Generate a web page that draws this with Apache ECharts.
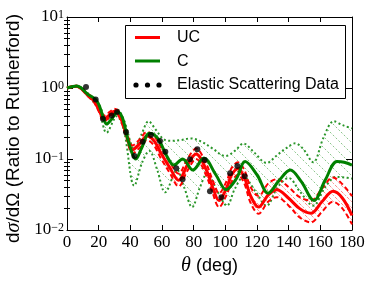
<!DOCTYPE html>
<html>
<head>
<meta charset="utf-8">
<script src="https://cdn.jsdelivr.net/npm/echarts@6/dist/echarts.min.js"></script>
<style>
html,body{margin:0;padding:0;background:#fff;}
#chart{width:374px;height:282px;}
</style>
</head>
<body>
<div id="chart"></div>
<script>
// ---- data ----
var xTicks = [0, 20, 40, 60, 80, 100, 120, 140, 160, 180];
var yMajor = [0.01, 0.1, 1, 10];
var yMinor = [0.02,0.03,0.04,0.05,0.06,0.07,0.08,0.09,
              0.2,0.3,0.4,0.5,0.6,0.7,0.8,0.9,
              2,3,4,5,6,7,8,9];

// UC (red) curve and its dashed band
var ucAngle = [0,3,6,9,13,17,20,23.5,27,30,33,37,41.5,46,50.5,55,59,65,70.5,76,81.5,88,92,96,101,104,108,112,116,121,127,132.5,140,147,154,161,168,174,180];
var ucValue = [1.0,1.04,1.06,0.98,0.8,0.66,0.5,0.37,0.42,0.47,0.42,0.24,0.135,0.165,0.21,0.18,0.125,0.075,0.05,0.082,0.118,0.07,0.04,0.026,0.04,0.06,0.073,0.055,0.03,0.021,0.031,0.037,0.028,0.02,0.0172,0.025,0.035,0.028,0.016];
var ucUpper = [1.0,1.05,1.08,1.0,0.84,0.7,0.54,0.41,0.46,0.51,0.46,0.27,0.155,0.19,0.24,0.21,0.15,0.09,0.062,0.1,0.14,0.085,0.05,0.033,0.05,0.075,0.09,0.07,0.04,0.03,0.045,0.052,0.04,0.029,0.026,0.038,0.055,0.044,0.03];
var ucLower = [1.0,1.03,1.04,0.96,0.77,0.63,0.47,0.34,0.39,0.44,0.39,0.22,0.12,0.145,0.185,0.155,0.105,0.063,0.041,0.068,0.1,0.058,0.033,0.021,0.032,0.048,0.06,0.045,0.024,0.017,0.025,0.029,0.022,0.015,0.0128,0.018,0.025,0.02,0.012];

// C (green) curve
var cAngle = [0,3,6,9,13,17,19,21,23,25,28,32,35,39,43.5,47,52,55,58.7,63,67.5,73,79.5,86.5,94,100.5,107,112.5,120,127,134,141,148,156,163,170.5,175,180];
var cValue = [1.0,1.04,1.07,1.0,0.82,0.72,0.65,0.52,0.38,0.31,0.36,0.46,0.38,0.17,0.1,0.14,0.23,0.22,0.175,0.11,0.082,0.1,0.07,0.103,0.06,0.037,0.053,0.092,0.06,0.033,0.05,0.07,0.048,0.026,0.05,0.092,0.09,0.082];

// C (green) dotted band
var cUpAngle = [0,6,13,20,25,31.5,36,42.5,47,51.5,56,61,66,72,78,85,92,100,106,111.5,118,126,133,139,144,149,155.5,162,168.5,174,180];
var cUpper   = [1.0,1.08,0.85,0.6,0.36,0.5,0.35,0.14,0.22,0.34,0.26,0.19,0.18,0.185,0.195,0.175,0.14,0.11,0.13,0.165,0.125,0.088,0.115,0.145,0.166,0.14,0.09,0.2,0.34,0.3,0.27];
var cLoAngle = [0,6,13,20,25,31.5,36,42.5,47.5,52,57,62,69.5,74,79,84,88.5,95,101,106,111.5,119,126,133,140,147,155.5,163,170,175,180];
var cLower   = [1.0,1.05,0.78,0.5,0.235,0.4,0.25,0.042,0.09,0.13,0.07,0.034,0.07,0.04,0.021,0.04,0.062,0.035,0.022,0.038,0.056,0.035,0.022,0.04,0.054,0.035,0.022,0.04,0.056,0.055,0.053];

// Elastic scattering data
var dataAngle = [12.0,18.1,22.7,28.2,31.6,37.3,42.6,47.8,53.0,58.7,62.1,69.0,73.0,77.7,82.3,86.9,90.3,97.5,103.0,107.6,112.2];
var dataValue = [1.03,0.69,0.37,0.41,0.46,0.238,0.11,0.175,0.218,0.179,0.127,0.074,0.052,0.099,0.137,0.097,0.035,0.029,0.063,0.080,0.057];

// ---- helpers ----
function pairs(xs, ys){ var o=[]; for(var i=0;i<xs.length;i++) o.push([xs[i], ys[i]]); return o; }
function hatch(color, size, dash){
  var c=document.createElement('canvas'); c.width=size; c.height=size;
  var g=c.getContext('2d'); g.strokeStyle=color; g.lineWidth=1;
  if(dash) g.setLineDash(dash);
  g.beginPath(); g.moveTo(0,0); g.lineTo(size,size); g.stroke();
  return c;
}
function bandSeries(upX, upY, loX, loY, pattern){
  return {
    type:'custom', coordinateSystem:'cartesian2d', xAxisIndex:0, yAxisIndex:0,
    data:[[90,1]], silent:true, z:1, clip:true,
    renderItem:function(params, api){
      var pts=[], i;
      for(i=0;i<upX.length;i++) pts.push(api.coord([upX[i], upY[i]]));
      for(i=loX.length-1;i>=0;i--) pts.push(api.coord([loX[i], loY[i]]));
      return {type:'polygon', shape:{points:pts, smooth:0.2}, style:{fill:{image:pattern, repeat:'repeat'}, stroke:null}};
    }
  };
}
var serif = 'Liberation Serif';
var sans = 'Liberation Sans';
function expLabel(v){
  var e = Math.round(Math.log(v)/Math.LN10);
  return '{b|10}{s|' + (e<0 ? '\u2212' + (-e) : e) + '}';
}
var axisLineStyle = {show:true, onZero:false, lineStyle:{color:'#000', width:1}};

var chart = echarts.init(document.getElementById('chart'), null, {renderer:'canvas'});
chart.setOption({
  animation:false,
  backgroundColor:'#fff',
  grid:{left:67, right:22, top:17, bottom:52, outerBoundsMode:'none'},
  xAxis:[
    {type:'value', min:0, max:180, interval:20, position:'bottom',
     axisLine:axisLineStyle, splitLine:{show:false},
     axisTick:{inside:true, length:5, lineStyle:{color:'#000'}},
     axisLabel:{color:'#000', fontFamily:serif, fontSize:17, margin:4},
     name:'{t|\u03b8}{d| (deg)}', nameLocation:'middle', nameGap:24,
     nameTextStyle:{rich:{t:{fontFamily:serif, fontStyle:'italic', fontSize:20, color:'#000'}, d:{fontFamily:sans, fontSize:18, color:'#000'}}}},
    {type:'value', min:0, max:180, interval:20, position:'top',
     axisLine:axisLineStyle, splitLine:{show:false},
     axisTick:{inside:true, length:5, lineStyle:{color:'#000'}},
     axisLabel:{show:false}}
  ],
  yAxis:[
    {type:'log', min:0.01, max:10, position:'left',
     axisLine:axisLineStyle, splitLine:{show:false},
     axisTick:{inside:true, length:6, customValues:yMajor, lineStyle:{color:'#000'}},
     axisLabel:{customValues:yMajor, formatter:expLabel, margin:3,
       rich:{b:{fontFamily:serif, fontSize:17, color:'#000', verticalAlign:'bottom'},
             s:{fontFamily:serif, fontSize:12, color:'#000', verticalAlign:'top'}}},
     name:'{a|d}{g|\u03c3}{a|/d\u03a9 (Ratio to Rutherford)}', nameLocation:'middle', nameGap:43, nameRotate:90,
     nameTextStyle:{padding:[0,10,0,0], rich:{a:{fontFamily:sans, fontSize:19, color:'#000'}, g:{fontFamily:serif, fontStyle:'italic', fontSize:20, color:'#000'}}}},
    {type:'log', min:0.01, max:10, position:'left',
     axisLine:{show:false}, splitLine:{show:false},
     axisTick:{inside:true, length:3, customValues:yMinor, lineStyle:{color:'#000'}},
     axisLabel:{show:false}},
    {type:'log', min:0.01, max:10, position:'right',
     axisLine:axisLineStyle, splitLine:{show:false},
     axisTick:{inside:true, length:6, customValues:yMajor, lineStyle:{color:'#000'}},
     axisLabel:{show:false}},
    {type:'log', min:0.01, max:10, position:'right',
     axisLine:{show:false}, splitLine:{show:false},
     axisTick:{inside:true, length:3, customValues:yMinor, lineStyle:{color:'#000'}},
     axisLabel:{show:false}}
  ],
  series:[
    bandSeries(cUpAngle, cUpper, cLoAngle, cLower, hatch('rgba(0,128,0,0.45)', 11, [2,2])),
    bandSeries(ucAngle, ucUpper, ucAngle, ucLower, hatch('rgba(255,0,0,0.45)', 6, [2,1.5])),
    {name:'C upper', type:'line', data:pairs(cUpAngle, cUpper), smooth:0.35, symbol:'none', z:3,
     lineStyle:{color:'#2a962a', width:2, type:[2,2.5]}},
    {name:'C lower', type:'line', data:pairs(cLoAngle, cLower), smooth:0.35, symbol:'none', z:3,
     lineStyle:{color:'#2a962a', width:2, type:[2,2.5]}},
    {name:'UC upper', type:'line', data:pairs(ucAngle, ucUpper), smooth:0.35, symbol:'none', z:3,
     lineStyle:{color:'#ff0000', width:2, type:[5,3]}},
    {name:'UC lower', type:'line', data:pairs(ucAngle, ucLower), smooth:0.35, symbol:'none', z:3,
     lineStyle:{color:'#ff0000', width:2, type:[5,3]}},
    {name:'UC', type:'line', data:pairs(ucAngle, ucValue), smooth:0.35, symbol:'none', z:4,
     lineStyle:{color:'#ff0000', width:3}},
    {name:'C', type:'line', data:pairs(cAngle, cValue), smooth:0.35, symbol:'none', z:5,
     lineStyle:{color:'#008000', width:3}},
    {name:'Elastic Scattering Data', type:'scatter', data:pairs(dataAngle, dataValue), symbol:'circle', symbolSize:6, z:6,
     itemStyle:{color:'#000'}}
  ],
  graphic:[
    {type:'group', left:125, top:25, z:100, children:[
      {type:'rect', shape:{x:0.5, y:0.5, width:220, height:73}, style:{fill:'#fff', stroke:'#000', lineWidth:1}},
      {type:'line', shape:{x1:10, y1:12.5, x2:35, y2:12.5}, style:{stroke:'#ff0000', lineWidth:3}},
      {type:'text', x:52, y:13, style:{text:'UC', font:'16px "Liberation Sans"', fill:'#000', verticalAlign:'middle'}},
      {type:'line', shape:{x1:10, y1:36, x2:35, y2:36}, style:{stroke:'#008000', lineWidth:3}},
      {type:'text', x:52, y:37, style:{text:'C', font:'16px "Liberation Sans"', fill:'#000', verticalAlign:'middle'}},
      {type:'circle', shape:{cx:11, cy:60, r:2.6}, style:{fill:'#000'}},
      {type:'circle', shape:{cx:22.5, cy:60, r:2.6}, style:{fill:'#000'}},
      {type:'circle', shape:{cx:34, cy:60, r:2.6}, style:{fill:'#000'}},
      {type:'text', x:52, y:60, style:{text:'Elastic Scattering Data', font:'16px "Liberation Sans"', fill:'#000', verticalAlign:'middle'}}
    ]}
  ]
});
</script>
</body>
</html>
